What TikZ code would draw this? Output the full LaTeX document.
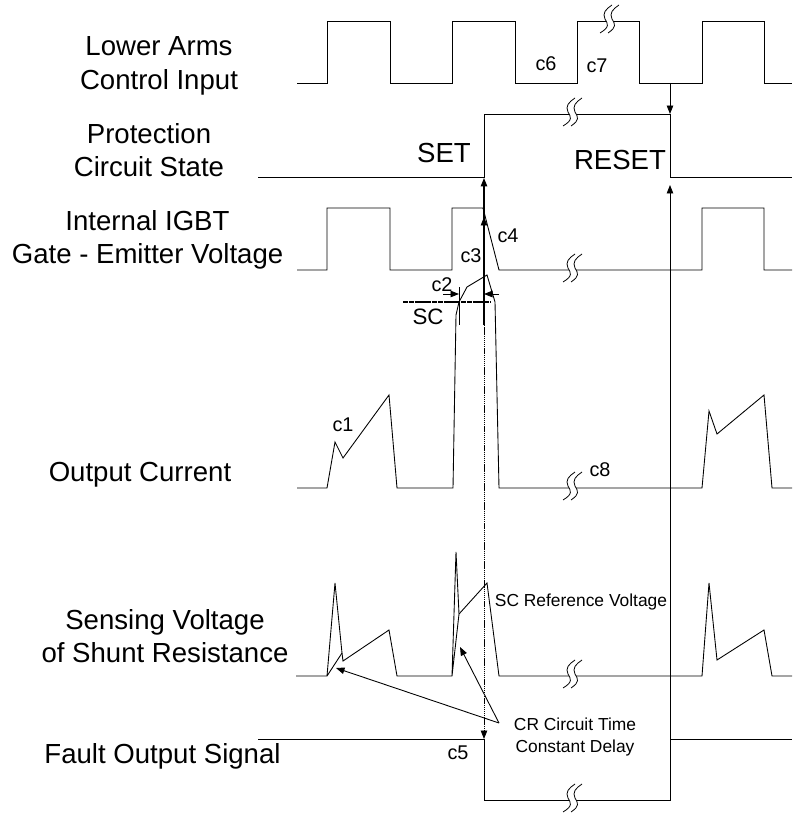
\documentclass[tikz,border=0pt]{standalone}
\usepackage{fontspec}
\setmainfont{Liberation Sans}
\usetikzlibrary{arrows.meta}
\tikzset{
  wave/.style={line width=0.5pt,line join=miter},
  tip/.style={line width=0.5pt,-{Triangle[length=1.7mm,width=1.3mm]}},
  biglabel/.style={inner sep=0pt,align=center,font=\fontsize{15.7}{19.1}\selectfont},
  midlabel/.style={inner sep=0pt,font=\fontsize{11.3}{14}\selectfont},
  smalllabel/.style={inner sep=0pt,align=center,font=\fontsize{9.9}{12}\selectfont},
  breakmark/.pic={
    \fill[white] (-10,12) .. controls (0,6) and (-2,3) .. (-5,-2) .. controls (-8,-8) and (-4,-12) .. (2,-16)
      -- (9,-16) .. controls (3,-12) and (-1,-8) .. (2,-2) .. controls (5,3) and (7,6) .. (-2,12) -- cycle;
    \draw[line width=0.45pt] (-10,12) .. controls (0,6) and (-2,3) .. (-5,-2) .. controls (-8,-8) and (-4,-12) .. (2,-16);
    \draw[line width=0.45pt] (-2,12) .. controls (7,6) and (5,3) .. (2,-2) .. controls (-1,-8) and (3,-12) .. (9,-16);
  }
}
\begin{document}
\begin{tikzpicture}[x=0.02cm,y=-0.02cm]
\useasboundingbox (0,0) rectangle (792,814);
% labels on the left
\node[biglabel] (lowerarms) at (159,66) {Lower Arms\\Control Input};
\node[biglabel] (protection) at (149,150) {Protection\\Circuit State};
\node[biglabel] (gatevolt) at (147.5,240) {Internal IGBT\\Gate - Emitter Voltage};
\node[biglabel] (outcurrent) at (140,475) {Output Current};
\node[biglabel] (sensevolt) at (165,636) {Sensing Voltage\\of Shunt Resistance};
\node[biglabel] (faultout) at (162.5,756) {Fault Output Signal};
% labels inside
\node[biglabel] (setlabel) at (444,153) {SET};
\node[biglabel] (resetlabel) at (620,160) {RESET};
\node[inner sep=0pt,font=\fontsize{12.7}{15}\selectfont] (sclabel) at (428,317) {SC};
\node[midlabel] (c1) at (343,425) {c1};
\node[midlabel] (c2) at (442,285) {c2};
\node[midlabel] (c3) at (471,256) {c3};
\node[midlabel] (c4) at (508,236) {c4};
\node[midlabel] (c5) at (458,753) {c5};
\node[midlabel] (c6) at (546,64) {c6};
\node[midlabel] (c7) at (597,66) {c7};
\node[midlabel] (c8) at (600,470) {c8};
\node[smalllabel] (screfvolt) at (581,602) {SC Reference Voltage};
\node[smalllabel] (crdelay) at (575,737) {CR Circuit Time\\Constant Delay};
% waveforms
\draw[wave] (297,83) -- (327,83) -- (327,21) -- (390,21) -- (390,83) -- (452,83) -- (452,21) -- (515,21) -- (515,83) -- (577,83) -- (577,21) -- (639,21) -- (639,83) -- (702,83) -- (702,21) -- (764,21) -- (764,83) -- (792,83);
\draw[wave] (258,177) -- (484,177) -- (484,114) -- (670,114) -- (670,177) -- (792,177);
\draw[wave] (297,270) -- (327,270) -- (327,208) -- (390,208) -- (390,270) -- (452,270) -- (452,208) -- (483,208) -- (499,270) -- (702,270) -- (702,208) -- (764,208) -- (764,270) -- (792,270);
\draw[wave] (297,488) -- (327,488) -- (335,442) -- (343,458) -- (389,395) -- (397,488) -- (453,488) -- (456,315) -- (459,302) -- (467,287) -- (487,275) -- (495,302) -- (499,488) -- (702,488) -- (709,411) -- (717,434) -- (764,395) -- (772,488) -- (792,488);
\draw[wave] (296,676) -- (327,676) -- (335,583) -- (342,653) -- (327,676);
\draw[wave] (342,653) -- (343,661) -- (389,630) -- (397,676) -- (452,676) -- (456,552) -- (459,614) -- (452,676);
\draw[wave] (459,614) -- (487,583) -- (499,676) -- (702,676) -- (709,583) -- (717,660) -- (764,630) -- (772,676) -- (792,676);
\draw[wave] (258,739) -- (484,739) -- (484,800) -- (670,800) -- (670,739) -- (792,739);
% breaks
\pic at (610,21) {breakmark};
\pic at (573,114) {breakmark};
\pic at (573,270) {breakmark};
\pic at (573,488) {breakmark};
\pic at (573,676) {breakmark};
\pic at (573,800) {breakmark};
% arrows
\coordinate (resetfrom) at (670,83);
\coordinate (resetto) at (670,114);
\coordinate (faultup) at (670,739);
\coordinate (resetup) at (670,185);
\coordinate (setfrom) at (484,325);
\coordinate (setto) at (484,178);
\coordinate (setmid) at (484,217);
\coordinate (faultdown) at (484,739);
\coordinate (crtip) at (499,723);
\coordinate (crone) at (336,668);
\coordinate (crtwo) at (460,647);
\draw[tip] (resetfrom) -- (resetto);
\draw[tip] (faultup) -- (resetup);
\draw[tip,line width=0.7pt] (setfrom) -- (setto);
\draw[tip] (setfrom) -- (setmid);
\draw[tip,dash pattern=on 0.8pt off 0.4pt] (setfrom) -- (faultdown);
\draw[tip] (crtip) -- (crone);
\draw[tip] (crtip) -- (crtwo);
% SC level
\coordinate (scleft) at (403,302);
\coordinate (scright) at (490,302);
\coordinate (wleft) at (459,287);
\coordinate (wbottom) at (459,325);
\coordinate (dimleft) at (443,294);
\coordinate (dimlefttip) at (459,294);
\coordinate (dimright) at (499,294);
\coordinate (dimrighttip) at (484,294);
\draw[line width=0.6pt,dash pattern=on 3pt off 0.3pt] (scleft) -- (scright);
\draw[line width=0.45pt] (wleft) -- (wbottom);
\draw[tip] (dimleft) -- (dimlefttip);
\draw[tip] (dimright) -- (dimrighttip);
\end{tikzpicture}
\end{document}
